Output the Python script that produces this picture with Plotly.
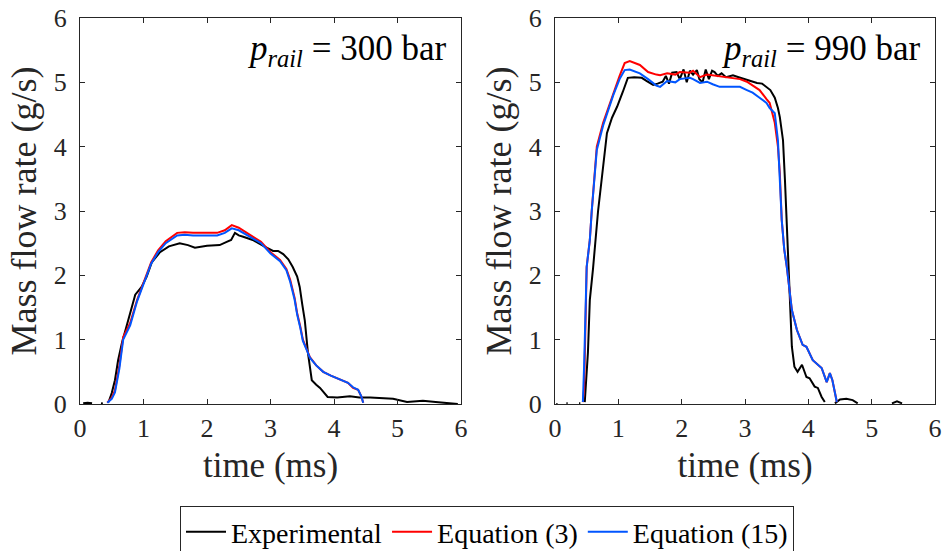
import plotly.graph_objects as go

# ---------------- data: p_rail = 300 bar ----------------
t300_exp = [0.05, 0.12, 0.19, None, 0.33, 0.36, None, 0.45, 0.5, 0.55, 0.6, 0.66, 0.73, 0.8, 0.87, 0.97,
            1.05, 1.13, 1.26, 1.4, 1.57, 1.7, 1.81, 2.0, 2.2, 2.31, 2.38, 2.44, 2.5, 2.57, 2.72,
            2.9, 3.04, 3.12, 3.2, 3.28, 3.35, 3.42, 3.46, 3.5, 3.54, 3.59, 3.65, 3.72, 3.78,
            3.9, 4.05, 4.25, 4.4, 4.57, 4.75, 4.93, 5.15, 5.4, 5.6, 5.83, 5.95]
q300_exp = [0.01, 0.02, 0.01, None, 0.01, 0.01, None, 0.03, 0.17, 0.37, 0.68, 0.95, 1.2, 1.45, 1.7, 1.82,
            1.98, 2.2, 2.36, 2.45, 2.5, 2.47, 2.43, 2.46, 2.47, 2.52, 2.55, 2.66, 2.62, 2.6, 2.55,
            2.45, 2.38, 2.38, 2.33, 2.25, 2.13, 1.98, 1.82, 1.55, 1.3, 0.79, 0.37, 0.3, 0.25,
            0.11, 0.1, 0.12, 0.1, 0.1, 0.09, 0.08, 0.03, 0.05, 0.03, 0.01, 0.0]

t300_model = [0.43, 0.5, 0.55, 0.62, 0.68, 0.79, 0.9, 1.02, 1.12, 1.23, 1.35, 1.53, 1.65, 1.78, 2.0,
              2.16, 2.28, 2.39, 2.5, 2.68, 2.85, 3.0, 3.15, 3.25, 3.31, 3.38, 3.42, 3.47, 3.51,
              3.57, 3.62, 3.72, 3.83, 3.95, 4.05, 4.15, 4.22, 4.3, 4.38, 4.43, 4.46]
q300_eq3 = [0.02, 0.1, 0.21, 0.6, 1.04, 1.26, 1.62, 1.93, 2.2, 2.39, 2.53, 2.66, 2.67, 2.66, 2.66,
            2.66, 2.7, 2.78, 2.74, 2.63, 2.52, 2.36, 2.24, 2.1, 1.93, 1.65, 1.41, 1.2, 1.0,
            0.85, 0.73, 0.6, 0.5, 0.44, 0.4, 0.36, 0.33, 0.25, 0.22, 0.12, 0.02]
q300_eq15 = [0.02, 0.08, 0.18, 0.55, 1.0, 1.22, 1.6, 1.9, 2.18, 2.36, 2.5, 2.62, 2.63, 2.62, 2.62,
             2.62, 2.66, 2.73, 2.7, 2.6, 2.5, 2.34, 2.22, 2.08, 1.9, 1.62, 1.39, 1.18, 0.98,
             0.84, 0.72, 0.6, 0.5, 0.44, 0.4, 0.36, 0.33, 0.26, 0.22, 0.12, 0.02]

# ---------------- data: p_rail = 990 bar ----------------
t990_exp = [0.02, 0.04, None, 0.18, 0.2, None, 0.38, 0.4, None, 0.47, 0.52, 0.55, 0.6, 0.68, 0.75,
            0.82, 0.9, 0.98, 1.07, 1.15, 1.25, 1.37, 1.45, 1.55, 1.62, 1.7, 1.75, 1.8, 1.85,
            1.92, 1.97, 2.03, 2.08, 2.13, 2.18, 2.24, 2.28, 2.33, 2.38, 2.43, 2.48, 2.52, 2.57,
            2.63, 2.7, 2.81, 2.9, 3.0, 3.1, 3.19, 3.27, 3.34, 3.4, 3.47, 3.52, 3.55, 3.6, 3.63,
            3.66, 3.69, 3.71, 3.74, 3.78, 3.83, 3.9, 3.97, 4.02, 4.1, 4.15, 4.21, 4.26, None,
            4.42, 4.5, 4.6, 4.7, 4.78, None, 5.32, 5.4, 5.48]
q990_exp = [0.0, 0.0, None, 0.01, 0.01, None, 0.01, 0.01, None, 0.03, 0.8, 1.62, 2.1, 3.0, 3.6,
            4.21, 4.45, 4.62, 4.85, 5.07, 5.08, 5.07, 5.02, 4.96, 4.98, 5.01, 5.1, 4.98, 5.15,
            5.16, 5.05, 5.2, 5.0, 5.18, 5.12, 5.19, 5.05, 5.0, 5.2, 5.05, 5.18, 5.16, 5.1,
            5.14, 5.08, 5.11, 5.08, 5.05, 5.02, 4.99, 4.98, 4.93, 4.88, 4.76, 4.6, 4.46, 4.1, 3.5,
            2.8, 2.0, 1.5, 0.89, 0.58, 0.5, 0.61, 0.42, 0.4, 0.27, 0.25, 0.11, 0.03, None,
            0.01, 0.07, 0.08, 0.06, 0.01, None, 0.01, 0.04, 0.01]

t990_model = [0.44, 0.46, 0.5, 0.55, 0.58, 0.62, 0.66, 0.76, 0.92, 1.02, 1.1, 1.18, 1.34, 1.47, 1.6,
              1.66, 1.77, 1.9, 1.97, 2.13, 2.18, 2.29, 2.4, 2.49, 2.6, 2.76, 2.92, 3.03, 3.12,
              3.23, 3.34, 3.39, 3.47, 3.52, 3.55, 3.58, 3.62, 3.66, 3.74, 3.82, 3.91, 3.97,
              4.07, 4.21, 4.29, 4.34, 4.38, 4.42, 4.45]
q990_eq3 = [0.03, 0.25, 2.13, 2.55, 3.0, 3.5, 4.0, 4.37, 4.84, 5.1, 5.3, 5.33, 5.27, 5.16, 5.12,
            5.11, 5.14, 5.12, 5.16, 5.15, 5.18, 5.08, 5.12, 5.11, 5.09, 5.07, 5.05, 5.01, 4.95,
            4.88, 4.74, 4.68, 4.37, 4.0, 3.59, 2.86, 2.4, 2.13, 1.46, 1.15, 0.92, 0.89,
            0.68, 0.56, 0.34, 0.48, 0.37, 0.15, 0.03]
q990_eq15 = [0.03, 0.6, 2.13, 2.55, 3.0, 3.5, 3.95, 4.33, 4.8, 5.05, 5.19, 5.2, 5.14, 5.05, 4.95,
             4.93, 5.02, 5.0, 5.05, 5.07, 5.05, 4.99, 5.01, 4.97, 4.93, 4.93, 4.93, 4.88, 4.84,
             4.76, 4.68, 4.6, 4.52, 4.1, 3.5, 2.86, 2.4, 2.13, 1.46, 1.15, 0.92, 0.89,
             0.68, 0.56, 0.34, 0.48, 0.37, 0.15, 0.03]

series_names = ["Experimental", "Equation (3)", "Equation (15)"]
series_colors = ["#000000", "#ff0000", "#0055ff"]
x_ticks = [0, 1, 2, 3, 4, 5, 6]
y_ticks = [0, 1, 2, 3, 4, 5, 6]
panel_labels = ["<i>p</i><sub><i>rail</i></sub> = 300 bar", "<i>p</i><sub><i>rail</i></sub> = 990 bar"]

FONT = "Liberation Serif"
fig = go.Figure()

panels = [
    ("x", "y", t300_exp, q300_exp, t300_model, q300_eq3, q300_eq15),
    ("x2", "y2", t990_exp, q990_exp, t990_model, q990_eq3, q990_eq15),
]
for i, (xa, ya, te, qe, tm, q3, q15) in enumerate(panels):
    data = [(te, qe), (tm, q3), (tm, q15)]
    for k, (tx, qy) in enumerate(data):
        fig.add_trace(go.Scatter(
            x=tx, y=qy, mode="lines", name=series_names[k],
            line=dict(color=series_colors[k], width=2),
            xaxis=xa, yaxis=ya, showlegend=(i == 0), connectgaps=False,
        ))

axis_common = dict(
    range=[0, 6], showgrid=False, zeroline=False,
    showline=True, linecolor="#262626", linewidth=1, mirror="ticks",
    ticks="inside", ticklen=5, tickcolor="#262626",
    tickfont=dict(family=FONT, size=26, color="#262626"),
    ticklabelposition="outside", ticklabeloverflow="allow",
    automargin=False,
)
TITLE_FONT_Y = dict(family=FONT, size=36, color="#262626")
TITLE_FONT_X = dict(family=FONT, size=35, color="#262626")

FW, FH = 945, 551


def px_x(p):
    return p / FW


def px_y(p):
    return (FH - p) / FH


fig.update_layout(
    width=FW, height=FH,
    margin=dict(l=0, r=0, t=0, b=0, autoexpand=False),
    paper_bgcolor="white", plot_bgcolor="white",
    font=dict(family=FONT, color="#262626"),
    xaxis=dict(axis_common, tickvals=x_ticks, domain=[px_x(80), px_x(461)], anchor="y",
               ticklabelstandoff=1,
               title=dict(text="time (ms)", font=TITLE_FONT_X, standoff=10)),
    yaxis=dict(axis_common, tickvals=y_ticks, domain=[px_y(404), px_y(18)], anchor="x",
               ticklabelstandoff=7,
               title=dict(text="Mass flow rate (g/s)", font=TITLE_FONT_Y, standoff=6)),
    xaxis2=dict(axis_common, tickvals=x_ticks, domain=[px_x(555), px_x(935)], anchor="y2",
                ticklabelstandoff=1,
                title=dict(text="time (ms)", font=TITLE_FONT_X, standoff=10)),
    yaxis2=dict(axis_common, tickvals=y_ticks, domain=[px_y(404), px_y(18)], anchor="x2",
                ticklabelstandoff=7,
                title=dict(text="Mass flow rate (g/s)", font=TITLE_FONT_Y, standoff=6)),
    legend=dict(
        orientation="h", x=px_x(487), xanchor="center", y=px_y(506), yanchor="top",
        bordercolor="#262626", borderwidth=1, bgcolor="white",
        font=dict(family=FONT, size=28, color="#000000"),
        itemwidth=40, tracegroupgap=0,
    ),
    annotations=[
        dict(text=panel_labels[0], x=5.8, y=5.5, xref="x", yref="y", xanchor="right", yanchor="middle",
             showarrow=False, font=dict(family=FONT, size=35, color="#000000")),
        dict(text=panel_labels[1], x=5.8, y=5.5, xref="x2", yref="y2", xanchor="right", yanchor="middle",
             showarrow=False, font=dict(family=FONT, size=35, color="#000000")),
    ],
)

# remove the browser's default 8 px page margin so the figure sits at the window origin
fig.write_html("out.html", config={"displayModeBar": False},
               post_script="document.body.style.margin='0px';")
